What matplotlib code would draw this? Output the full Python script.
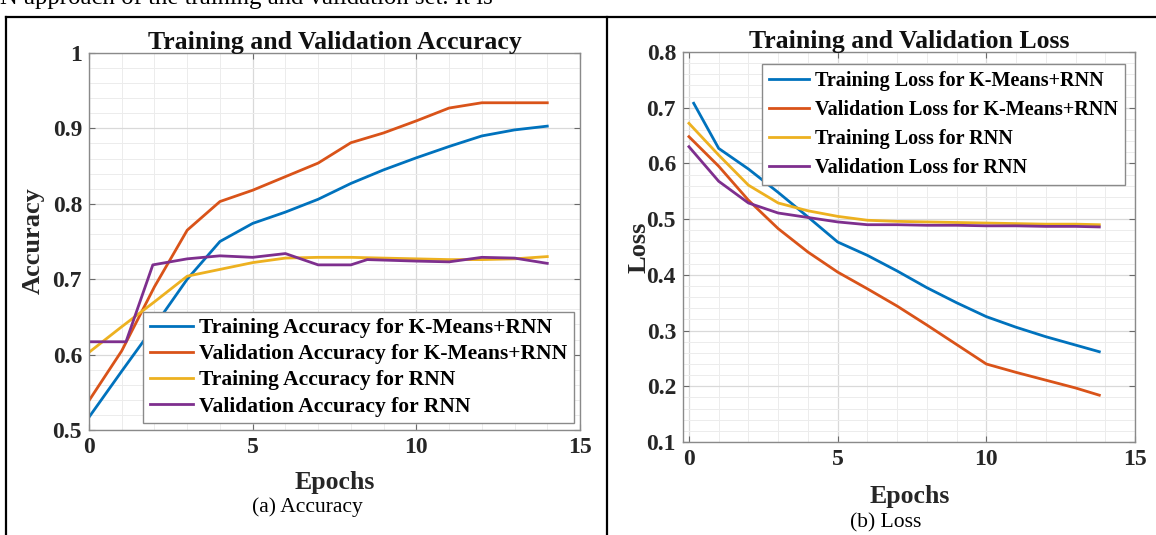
import matplotlib
matplotlib.use("Agg")
import matplotlib.pyplot as plt
from matplotlib.lines import Line2D
from matplotlib.ticker import MultipleLocator

plt.rcParams['font.family'] = ['Liberation Serif', 'DejaVu Serif']

# ---- accuracy curves ----
epochs_acc = [0, 1, 2, 3, 4, 5, 6, 7, 8, 9, 10, 11, 12, 13, 14]
train_acc_km = [0.517, 0.578, 0.638, 0.700, 0.750, 0.774, 0.789, 0.806, 0.827,
                0.845, 0.861, 0.876, 0.890, 0.898, 0.903]
val_acc_km = [0.539, 0.605, 0.690, 0.765, 0.803, 0.818, 0.836, 0.854, 0.881,
              0.894, 0.910, 0.927, 0.934, 0.934, 0.934]
train_acc_rnn = [0.603, 0.637, 0.670, 0.704, 0.713, 0.722, 0.728, 0.729, 0.729,
                 0.728, 0.727, 0.726, 0.726, 0.727, 0.730]
epochs_val_rnn = [0, 1.13, 1.95, 3, 4, 5, 6, 7, 8, 8.5, 10, 11, 12, 13, 14]
val_acc_rnn = [0.617, 0.617, 0.719, 0.727, 0.731, 0.729, 0.734, 0.719, 0.719,
               0.726, 0.724, 0.723, 0.729, 0.728, 0.721]

# ---- loss curves ----
epochs_loss = [0, 1, 2, 3, 4, 5, 6, 7, 8, 9, 10, 11, 12, 13, 13.8]
epochs_train_loss_km = [0.16, 1, 2, 3, 4, 5, 6, 7, 8, 9, 10, 11, 12, 13, 13.8]
train_loss_km = [0.708, 0.627, 0.590, 0.548, 0.504, 0.459, 0.435, 0.407, 0.377,
                 0.350, 0.325, 0.306, 0.289, 0.274, 0.262]
val_loss_km = [0.648, 0.595, 0.534, 0.483, 0.441, 0.405, 0.375, 0.344, 0.310,
               0.275, 0.240, 0.225, 0.211, 0.197, 0.184]
train_loss_rnn = [0.672, 0.615, 0.561, 0.529, 0.515, 0.505, 0.498, 0.496, 0.495,
                  0.494, 0.493, 0.492, 0.491, 0.491, 0.490]
val_loss_rnn = [0.630, 0.568, 0.529, 0.511, 0.503, 0.495, 0.490, 0.490, 0.489,
                0.489, 0.488, 0.488, 0.487, 0.487, 0.486]

acc_labels = ["Training Accuracy for K-Means+RNN",
              "Validation Accuracy for K-Means+RNN",
              "Training Accuracy for RNN",
              "Validation Accuracy for RNN"]
loss_labels = ["Training Loss for K-Means+RNN",
               "Validation Loss for K-Means+RNN",
               "Training Loss for RNN",
               "Validation Loss for RNN"]

colors = ["#0072BD", "#D95319", "#EDB120", "#7E2F8E"]

W, H = 1156, 535
fig = plt.figure(figsize=(W / 100, H / 100), dpi=100)


def box(l, t, r, b):
    return [l / W, 1 - b / H, (r - l) / W, (b - t) / H]


def style_axes(ax, ymin, ymax, xmin):
    ax.set_xlim(xmin, 15)
    ax.set_ylim(ymin, ymax)
    ax.xaxis.set_major_locator(MultipleLocator(5))
    ax.xaxis.set_minor_locator(MultipleLocator(1))
    ax.yaxis.set_major_locator(MultipleLocator(0.1))
    ax.yaxis.set_minor_locator(MultipleLocator(0.02))
    ax.grid(which='major', color='#d9d9d9', linewidth=0.9)
    ax.grid(which='minor', color='#ececec', linewidth=0.7)
    ax.set_axisbelow(True)
    for s in ax.spines.values():
        s.set_color('#8a8a8a')
        s.set_linewidth(1.0)
    ax.tick_params(which='major', direction='in', length=4, color='#6a6a6a',
                   top=True, right=True, labelsize=17, pad=5)
    ax.tick_params(which='minor', length=0)
    for lab in ax.get_xticklabels() + ax.get_yticklabels():
        lab.set_fontweight('bold')
        lab.set_color('#262626')


def px_to_axes(ax_box, x_px, y_px):
    l, t, r, b = ax_box
    return (x_px - l) / (r - l), (b - y_px) / (b - t)


acc_box = (89, 53, 580, 430)
loss_box = (683, 52, 1135, 442)

# Accuracy panel
ax1 = fig.add_axes(box(*acc_box))
ax1.plot(epochs_acc, train_acc_km, color=colors[0], lw=2.0, label=acc_labels[0])
ax1.plot(epochs_acc, val_acc_km, color=colors[1], lw=2.0, label=acc_labels[1])
ax1.plot(epochs_acc, train_acc_rnn, color=colors[2], lw=2.0, label=acc_labels[2])
ax1.plot(epochs_val_rnn, val_acc_rnn, color=colors[3], lw=2.0, label=acc_labels[3])
style_axes(ax1, 0.5, 1.0, 0)
ax1.set_yticks([0.5, 0.6, 0.7, 0.8, 0.9, 1.0])
ax1.set_yticklabels(['0.5', '0.6', '0.7', '0.8', '0.9', '1'], fontweight='bold')
ax1.set_title("Training and Validation Accuracy", fontsize=18.5, fontweight='bold',
              color='#111111', pad=3)
ax1.set_xlabel("Epochs", fontsize=18.5, fontweight='bold', color='#262626')
ax1.set_ylabel("Accuracy", fontsize=19, fontweight='bold', color='#262626')
ax1.xaxis.set_label_coords(*px_to_axes(acc_box, 335, 483))
ax1.yaxis.set_label_coords(*px_to_axes(acc_box, 33, 241))
ax1.xaxis.label.set_va('center')
ax1.yaxis.label.set_va('center')
leg1 = ax1.legend(loc='lower right', bbox_to_anchor=px_to_axes(acc_box, 574, 423),
                  prop={'weight': 'bold', 'size': 15.5},
                  frameon=True, fancybox=False, edgecolor='#8a8a8a', framealpha=1,
                  handlelength=2.0, handletextpad=0.3, labelspacing=0.28,
                  borderpad=0.3, borderaxespad=0.0)
leg1.get_frame().set_linewidth(1.0)

# Loss panel
ax2 = fig.add_axes(box(*loss_box))
ax2.plot(epochs_train_loss_km, train_loss_km, color=colors[0], lw=2.0, label=loss_labels[0])
ax2.plot(epochs_loss, val_loss_km, color=colors[1], lw=2.0, label=loss_labels[1])
ax2.plot(epochs_loss, train_loss_rnn, color=colors[2], lw=2.0, label=loss_labels[2])
ax2.plot(epochs_loss, val_loss_rnn, color=colors[3], lw=2.0, label=loss_labels[3])
style_axes(ax2, 0.1, 0.8, -0.2)
ax2.set_xticks([0, 5, 10, 15])
ax2.set_xticklabels(['0', '5', '10', '15'], fontweight='bold')
ax2.set_title("Training and Validation Loss", fontsize=18.5, fontweight='bold',
              color='#111111', pad=3)
ax2.set_xlabel("Epochs", fontsize=18.5, fontweight='bold', color='#262626')
ax2.set_ylabel("Loss", fontsize=19, fontweight='bold', color='#262626')
ax2.xaxis.set_label_coords(*px_to_axes(loss_box, 910, 497))
ax2.yaxis.set_label_coords(*px_to_axes(loss_box, 639, 247))
ax2.xaxis.label.set_va('center')
ax2.yaxis.label.set_va('center')
leg2 = ax2.legend(loc='upper right', bbox_to_anchor=px_to_axes(loss_box, 1125, 64),
                  prop={'weight': 'bold', 'size': 14.5},
                  frameon=True, fancybox=False, edgecolor='#8a8a8a', framealpha=1,
                  handlelength=2.0, handletextpad=0.3, labelspacing=0.45,
                  borderpad=0.35, borderaxespad=0.0)
leg2.get_frame().set_linewidth(1.0)

# Captions
fig.text(307 / W, 1 - 507 / H, "(a) Accuracy", ha='center', va='center', fontsize=15.5)
fig.text(886 / W, 1 - 523 / H, "(b) Loss", ha='center', va='center', fontsize=15.5)

# Running text above the table
fig.text(0, 1 - 4 / H, "N approach of the training and validation set. It is",
         ha='left', va='baseline', fontsize=17.8)

# Table rules
fig.add_artist(Line2D([6 / W, 1], [1 - 17 / H, 1 - 17 / H], color='black', lw=1.6))
fig.add_artist(Line2D([6 / W, 6 / W], [0, 1 - 17 / H], color='black', lw=1.6))
fig.add_artist(Line2D([607 / W, 607 / W], [0, 1 - 17 / H], color='black', lw=1.6))

fig.savefig("out.png", dpi=100)
